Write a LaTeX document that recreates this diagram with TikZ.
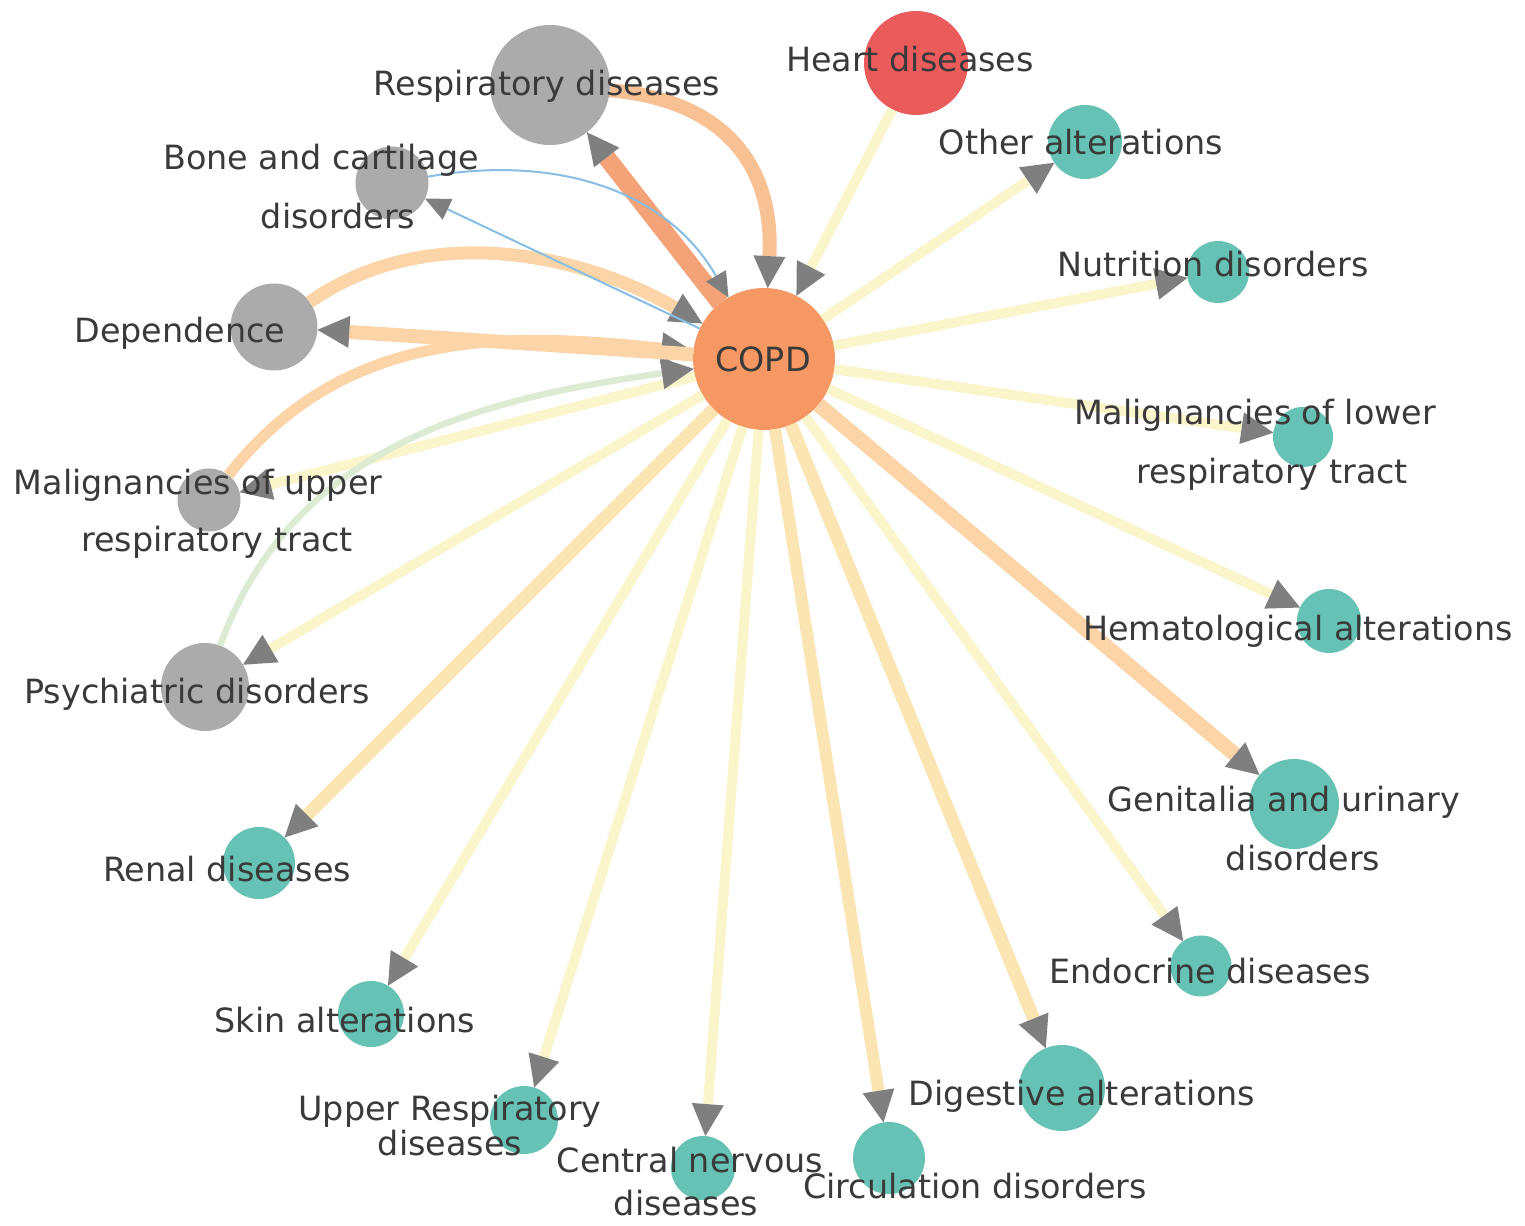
\documentclass[tikz,border=0pt]{standalone}
\usepackage{fontspec}
\setmainfont{DejaVu Sans}
\usetikzlibrary{arrows.meta}
\definecolor{gnode}{HTML}{ABABAB}
\definecolor{tnode}{HTML}{66C2B4}
\definecolor{copdc}{HTML}{F69864}
\definecolor{heartc}{HTML}{EA5B5C}
\definecolor{tipc}{HTML}{7F7F7F}
\definecolor{txt}{HTML}{3A3A3A}
\definecolor{eA}{HTML}{F4A277}
\definecolor{eB}{HTML}{F8C194}
\definecolor{eC}{HTML}{FBD5A8}
\definecolor{eD}{HTML}{FBE5B2}
\definecolor{eY}{HTML}{FBF5CB}
\definecolor{eG}{HTML}{DCEBD2}
\definecolor{eBl}{HTML}{88BEE3}
\tikzset{
  x=0.02cm, y=-0.02cm,
  nd/.style={circle, inner sep=0pt, outer sep=0pt, minimum size=#1},
  gn/.style={nd=#1, fill=gnode},
  tn/.style={nd=#1, fill=tnode},
  lab/.style={anchor=base, text=txt, font=\fontsize{19}{23}\selectfont, inner sep=0pt},
  edge/.style={line width=#1, -{Triangle[length=0.64cm, width=0.64cm, color=tipc, line width=0pt]}},
  thinedge/.style={line width=#1, -{Triangle[length=0.5cm, width=0.46cm, color=tipc, line width=0pt]}},
}
\begin{document}
\begin{tikzpicture}
\useasboundingbox[fill=white] (0,0) rectangle (1525,1226);
% circles
\node[nd=2.84cm, fill=copdc] (copd) at (764,359) {};
\node[gn=2.40cm] (resp) at (550,85) {};
\node[nd=2.08cm, fill=heartc] (heart) at (916,63) {};
\node[gn=1.46cm] (bone) at (392,183) {};
\node[gn=1.74cm] (dep) at (274,327) {};
\node[gn=1.26cm] (malup) at (209,500) {};
\node[gn=1.76cm] (psy) at (205,687) {};
\node[tn=1.48cm] (oth) at (1085,142) {};
\node[tn=1.24cm] (nut) at (1218,272) {};
\node[tn=1.20cm] (mallow) at (1303,437) {};
\node[tn=1.28cm] (hem) at (1329,621) {};
\node[tn=1.80cm] (gen) at (1294,804) {};
\node[tn=1.22cm] (endo) at (1201,966) {};
\node[tn=1.72cm] (dig) at (1062,1088) {};
\node[tn=1.44cm] (circ) at (889,1158) {};
\node[tn=1.28cm] (cns) at (703,1168) {};
\node[tn=1.36cm] (ur) at (524,1120) {};
\node[tn=1.32cm] (skin) at (371,1014) {};
\node[tn=1.44cm] (ren) at (259,863) {};
% edges
\draw[edge=0.2cm, eY] (copd) -- (nut);
\draw[edge=0.2cm, eY] (copd) -- (oth);
\draw[edge=0.2cm, eY] (copd) -- (mallow);
\draw[edge=0.2cm, eY] (copd) -- (hem);
\draw[edge=0.2cm, eY] (copd) -- (endo);
\draw[edge=0.2cm, eY] (copd) -- (cns);
\draw[edge=0.2cm, eY] (copd) -- (ur);
\draw[edge=0.2cm, eY] (copd) -- (skin);
\draw[edge=0.2cm, eY] (copd) -- (psy);
\draw[edge=0.2cm, eY] (copd) -- (malup);
\draw[edge=0.2cm, eY] (heart) -- (copd);
\draw[edge=0.24cm, eD] (copd) -- (circ);
\draw[edge=0.26cm, eD] (copd) -- (dig);
\draw[edge=0.26cm, eD] (copd) -- (ren);
\draw[edge=0.30cm, eC] (copd) -- (gen);
\draw[edge=0.13cm, eG] (psy) to[out=70, in=188] (copd);
\draw[edge=0.22cm, eC] (malup) to[out=52, in=174] (copd);
\draw[edge=0.28cm, eC] (copd) -- (dep);
\draw[edge=0.26cm, eC] (dep) to[out=35, in=150, looseness=0.92] (copd);
\draw[edge=0.28cm, eB] (resp) to[out=-5, in=87, looseness=1.2] (copd);
\draw[edge=0.36cm, eA] (copd) -- (resp);
\draw[thinedge=0.04cm, eBl] (bone) to[out=10, in=120] (copd);
\draw[thinedge=0.04cm, eBl] (copd) -- (bone);
% labels
\node[lab] (lcopd) at (763,372) {COPD};
\node[lab] (lresp) at (547,96) {Respiratory diseases};
\node[lab] (lheart) at (910,72) {Heart diseases};
\node[lab] (lbone1) at (321,170) {Bone and cartilage};
\node[lab] (lbone2) at (338,229) {disorders};
\node[lab] (ldep) at (180,343) {Dependence};
\node[lab] (lmalup1) at (198,495) {Malignancies of upper};
\node[lab] (lmalup2) at (217,551) {respiratory tract};
\node[lab] (lpsy) at (197,703) {Psychiatric disorders};
\node[lab] (loth) at (1081,155) {Other alterations};
\node[lab] (lnut) at (1213,277) {Nutrition disorders};
\node[lab] (lmallow1) at (1255,425) {Malignancies of lower};
\node[lab] (lmallow2) at (1272,483) {respiratory tract};
\node[lab] (lhem) at (1298,640) {Hematological alterations};
\node[lab] (lgen1) at (1284,811) {Genitalia and urinary};
\node[lab] (lgen2) at (1303,870) {disorders};
\node[lab] (lendo) at (1210,983) {Endocrine diseases};
\node[lab] (ldig) at (1082,1105) {Digestive alterations};
\node[lab] (lcirc) at (975,1198) {Circulation disorders};
\node[lab] (lcns1) at (690,1172) {Central nervous};
\node[lab] (lcns2) at (686,1215) {diseases};
\node[lab] (lur1) at (450,1120) {Upper Respiratory};
\node[lab] (lur2) at (450,1155) {diseases};
\node[lab] (lskin) at (345,1032) {Skin alterations};
\node[lab] (lren) at (227,881) {Renal diseases};
\end{tikzpicture}
\end{document}
